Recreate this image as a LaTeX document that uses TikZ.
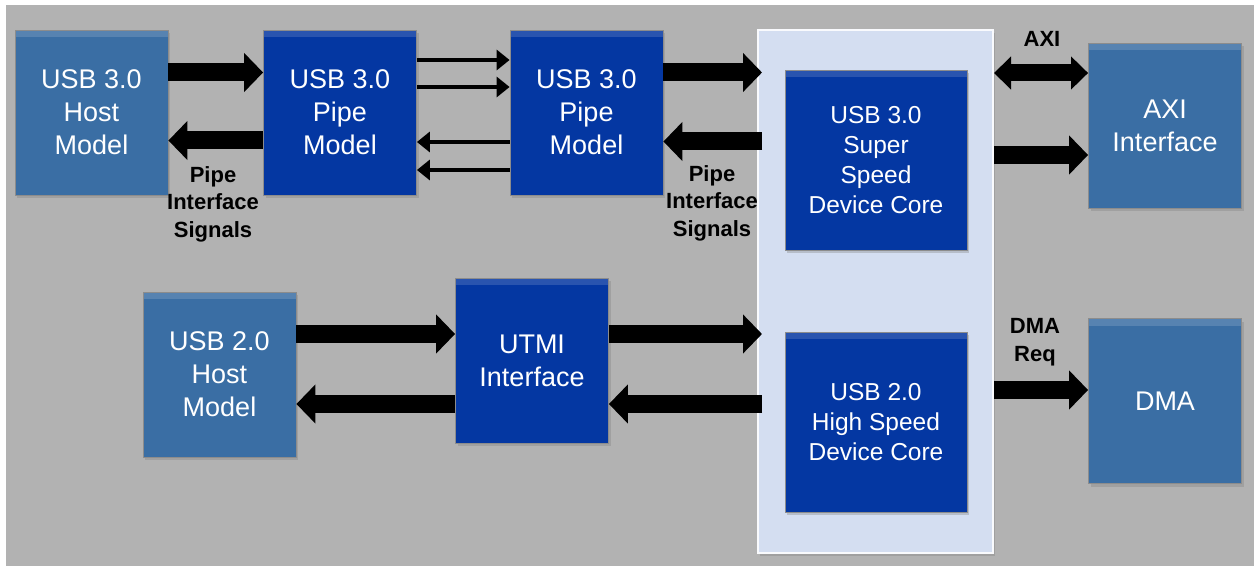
\documentclass[tikz,border=0pt]{standalone}
\usepackage{fontspec}
\setmainfont{Liberation Sans}
\usetikzlibrary{arrows.meta,shadows}
\definecolor{bggray}{HTML}{B2B2B2}
\definecolor{steel}{HTML}{3A6EA4}
\definecolor{royal}{HTML}{0437A2}
\definecolor{panelblue}{HTML}{D4DEF1}
\def\boxw{153pt}
\def\boxh{165pt}

\begin{document}
\begin{tikzpicture}[x=1pt,y=1pt]
    \tikzstyle{block}=[rectangle, inner sep=0pt, align=center, text=white,
        minimum width=\boxw, minimum height=\boxh, draw=black!45, line width=0.8pt,
        font=\fontsize{27}{33}\selectfont,
        drop shadow={shadow xshift=2pt, shadow yshift=-3pt, opacity=0.35},
        path picture={\fill[white,opacity=0.15] (path picture bounding box.north west)
            rectangle ([yshift=-7pt]path picture bounding box.north east);}]
    \tikzstyle{hostbox}=[block, fill=steel]
    \tikzstyle{pipebox}=[block, fill=royal]
    \tikzstyle{corebox}=[block, fill=royal, minimum width=182pt, minimum height=180pt,
        font=\fontsize{24.5}{30}\selectfont]
    \tikzstyle{panel}=[rectangle, fill=panelblue, draw=white!85!panelblue, line width=2pt,
        minimum width=235pt, minimum height=523pt,
        drop shadow={shadow xshift=2pt, shadow yshift=-3pt, opacity=0.35}]
    \tikzstyle{bus}=[line width=18pt, -{Triangle[length=19pt,width=38pt]}]
    \tikzstyle{busboth}=[line width=17pt, {Triangle[length=17pt,width=32pt]}-{Triangle[length=17pt,width=32pt]}]
    \tikzstyle{wire}=[line width=4pt, -{Triangle[length=13pt,width=20pt]}]
    \tikzstyle{annot}=[align=center, font=\bfseries\fontsize{22}{27.5}\selectfont]

    \useasboundingbox (0,0) rectangle (1259,566);
    \fill[bggray] (6,0) rectangle (1254,561);

    % Draw the USB 3.0 row
    \node[hostbox] (host3) at (91.5,453.5) {USB 3.0\\Host\\Model};
    \node[pipebox] (pipeA) at (340,453.5) {USB 3.0\\Pipe\\Model};
    \node[pipebox] (pipeB) at (586.5,453.5) {USB 3.0\\Pipe\\Model};

    % Draw the device panel and its two cores
    \node[panel] (panel) at (875.5,274.5) {};
    \node[corebox] (ss) at (876,406) {USB 3.0\\Super\\Speed\\Device Core};
    \node[corebox] (hs) at (876,144) {USB 2.0\\High Speed\\Device Core};

    % Draw the blocks on the right
    \node[hostbox] (axi) at (1165,440) {AXI\\Interface};
    \node[hostbox] (dma) at (1165,165) {DMA};

    % Draw the USB 2.0 row
    \node[hostbox] (host2) at (219.5,191.5) {USB 2.0\\Host\\Model};
    \node[pipebox] (utmi) at (532,205.5) {UTMI\\Interface};

    % Connect the USB 3.0 row
    \draw[bus] ([yshift=40pt]host3.east) -- ([yshift=40pt]pipeA.west);
    \draw[bus] ([yshift=-28pt]pipeA.west) -- ([yshift=-28pt]host3.east);
    \foreach \dy in {52.5,25.5}
        \draw[wire] ([yshift=\dy pt]pipeA.east) -- ([yshift=\dy pt]pipeB.west);
    \foreach \dy in {-29.5,-57.5}
        \draw[wire] ([yshift=\dy pt]pipeB.west) -- ([yshift=\dy pt]pipeA.east);
    \draw[bus] ([yshift=40pt]pipeB.east) -- ([yshift=40pt,xshift=5pt]pipeB.east -| panel.west);
    \draw[bus] ([yshift=-29pt,xshift=5pt]pipeB.east -| panel.west) -- ([yshift=-29pt]pipeB.east);

    % Connect the panel with the right blocks
    \draw[busboth] ([yshift=53pt]axi.west -| panel.east) -- ([yshift=53pt]axi.west);
    \draw[bus] ([yshift=-29pt]axi.west -| panel.east) -- ([yshift=-29pt]axi.west);
    \draw[bus] ([yshift=11pt]dma.west -| panel.east) -- ([yshift=11pt]dma.west);

    % Connect the USB 2.0 row
    \draw[bus] ([yshift=40.5pt]host2.east) -- ([yshift=40.5pt]host2.east -| utmi.west);
    \draw[bus] ([yshift=-29.5pt]host2.east -| utmi.west) -- ([yshift=-29.5pt]host2.east);
    \draw[bus] ([yshift=40.5pt]host2.east -| utmi.east) -- ([yshift=40.5pt,xshift=5pt]host2.east -| panel.west);
    \draw[bus] ([yshift=-29.5pt,xshift=5pt]host2.east -| panel.west) -- ([yshift=-29.5pt]host2.east -| utmi.east);

    % Annotate the buses
    \node[annot] (sigA) at (213,362) {Pipe\\Interface\\Signals};
    \node[annot] (sigB) at (712,363) {Pipe\\Interface\\Signals};
    \node[annot] (axilbl) at (1042,527) {AXI};
    \node[annot] (dmalbl) at (1035,224) {DMA\\Req};
\end{tikzpicture}
\end{document}
